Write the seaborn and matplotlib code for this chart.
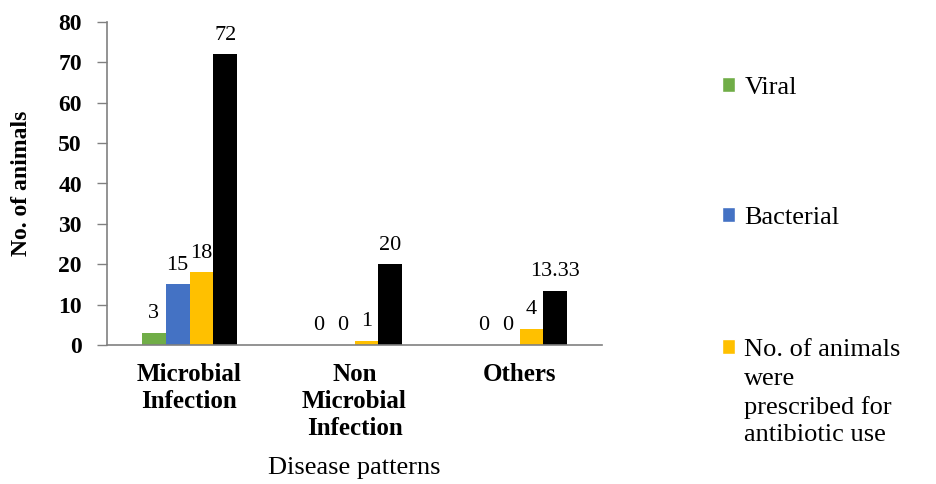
import pandas as pd
import seaborn as sns
import matplotlib.pyplot as plt
from matplotlib.patches import Patch

categories = ["Microbial\nInfection", "Non\nMicrobial\nInfection", "Others"]
series = ["Viral", "Bacterial",
          "No. of animals\nwere\nprescribed for\nantibiotic use", "Percentage"]
viral = [3, 0, 0]
bacterial = [15, 0, 0]
prescribed = [18, 1, 4]
percentage = [72, 20, 13.33]
value_labels = [["3", "0", "0"], ["15", "0", "0"], ["18", "1", "4"], ["72", "20", "13.33"]]
colors = ["#70AD47", "#4472C4", "#FFC000", "#000000"]


def build_frame():
    rows = []
    for name, vals in zip(series, [viral, bacterial, prescribed, percentage]):
        for cat, v in zip(categories, vals):
            rows.append({"pattern": cat, "series": name, "value": v})
    return pd.DataFrame(rows)


def main():
    sns.set_theme(style="white")
    plt.rcParams["font.family"] = ["Liberation Serif", "DejaVu Serif"]

    df = build_frame()
    fig = plt.figure(figsize=(9.37, 4.84), dpi=100)
    W, H = 937, 484
    ax = fig.add_axes([107 / W, 1 - 345 / H, 495 / W, 323 / H])

    sns.barplot(data=df, x="pattern", y="value", hue="series",
                palette=colors, width=0.58, ax=ax, legend=False,
                saturation=1, linewidth=0)

    for cont, labs in zip(ax.containers, value_labels):
        ax.bar_label(cont, labels=labs, padding=7, fontsize=16, color="black")

    ax.set_ylim(0, 80)
    ax.set_yticks(range(0, 81, 10))
    ax.set_xlim(-0.5, 2.5)
    ax.tick_params(axis="y", labelsize=17, length=7, width=1, color="#808080",
                   direction="out", left=True, pad=11)
    ax.tick_params(axis="x", labelsize=18, length=0, pad=13)
    for lab in ax.get_yticklabels() + ax.get_xticklabels():
        lab.set_fontweight("bold")
        lab.set_color("black")
    for t in ax.get_xticklabels():
        t.set_linespacing(1.22)

    ax.set_ylabel("No. of animals", fontsize=17, fontweight="bold", color="black")
    ax.yaxis.set_label_coords((22 - 107) / 495, 0.5)
    ax.yaxis.label.set_va("center")
    ax.set_xlabel("Disease patterns", fontsize=19, color="black")
    ax.xaxis.set_label_coords(0.5, (345 - 468) / 323)
    ax.xaxis.label.set_va("center")

    sns.despine(ax=ax)
    for s in ["left", "bottom"]:
        ax.spines[s].set_color("#808080")
        ax.spines[s].set_linewidth(1.2)

    # legend: one entry each, spaced out like the source; the long label
    # keeps its marker on the first line
    first_lines = [s.split("\n")[0] for s in series[:3]]
    ys = [88, 218, 350]
    legs = []
    for name, col, y in zip(first_lines, colors[:3], ys):
        leg = fig.legend(handles=[Patch(facecolor=col)], labels=[name],
                         loc="center left", bbox_to_anchor=(722 / W, 1 - y / H),
                         frameon=False, fontsize=19, handlelength=0.5,
                         handleheight=0.5, handletextpad=0.35, borderpad=0,
                         borderaxespad=0)
        for t in leg.get_texts():
            t.set_color("black")
        legs.append(leg)

    fig.canvas.draw()
    bb = legs[2].get_texts()[0].get_window_extent(fig.canvas.get_renderer())
    rest = "\n".join(series[2].split("\n")[1:])
    fig.text(bb.x0 / fig.bbox.width, 1 - 407 / H, rest, fontsize=19,
             color="black", va="center", ha="left", linespacing=1.34)

    fig.savefig("out.png", dpi=100)


if __name__ == "__main__":
    main()
